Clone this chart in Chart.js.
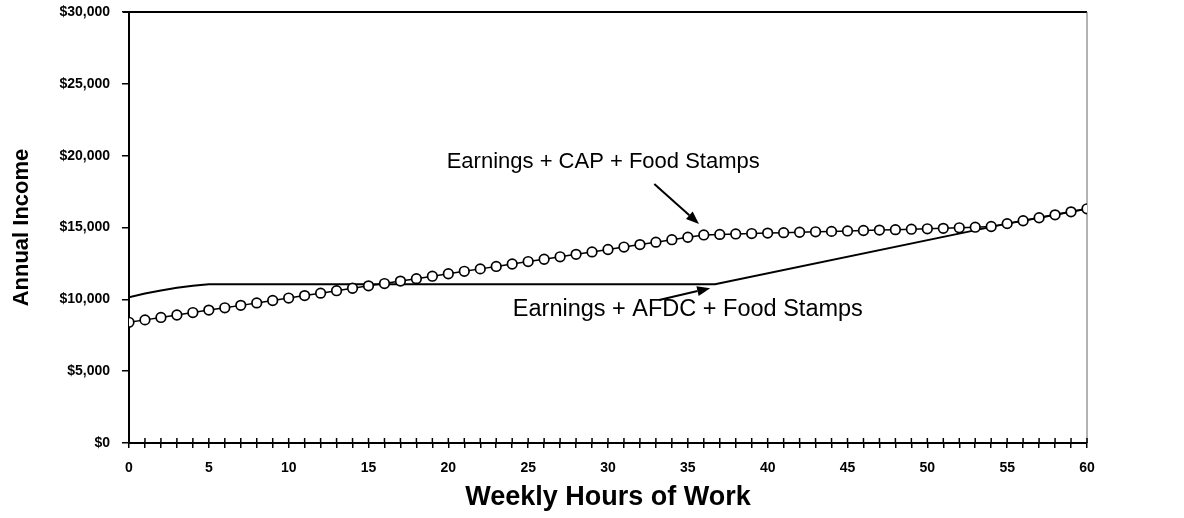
<!DOCTYPE html>
<html>
<head>
<meta charset="utf-8">
<script src="https://cdn.jsdelivr.net/npm/chart.js@4.4.1/dist/chart.umd.min.js"></script>
<style>
  html, body { margin: 0; padding: 0; background: #fff; }
  #wrap { width: 1184px; height: 518px; }
</style>
</head>
<body>
<div id="wrap"><canvas id="incomeChart" width="1184" height="518"></canvas></div>
<script>
// weekly hours (x) and annual income values
const hours = [0,1,2,3,4,5,6,7,8,9,10,11,12,13,14,15,16,17,18,19,20,
  21,22,23,24,25,26,27,28,29,30,31,32,33,34,35,36,37,38,39,40,
  41,42,43,44,45,46,47,48,49,50,51,52,53,54,55,56,57,58,59,60];

const capIncome = [8400,8570,8740,8910,9080,9250,9410,9580,9750,9920,10090,
  10260,10430,10600,10770,10940,11100,11270,11440,11610,11780,
  11950,12120,12290,12460,12630,12790,12960,13130,13300,13470,
  13640,13810,13980,14150,14320,14480,14520,14550,14580,14610,
  14640,14670,14700,14730,14760,14790,14820,14850,14880,14910,
  14940,14980,15020,15070,15270,15470,15680,15880,16090,16300];

const afdcHours = [0,1,2,3,4,5,36.7,55,56,57,58,59,60];
const afdcIncome = [10150,10400,10620,10800,10950,11050,11050,15270,15470,15680,15880,16090,16300];

const yTickStep = 5000;
const xLabelEvery = 5;

// callout texts, placed in data units
const notes = [
  { text: "Earnings + CAP + Food Stamps", size: 22, x: 29.7, y: 19550, from: [32.9, 18030], to: [35.7, 15250] },
  { text: "Earnings + AFDC + Food Stamps", size: 23.5, x: 35.0, y: 9300, from: [33.2, 9950], to: [36.4, 10780] }
];

const FONT = "'Liberation Sans', Arial, Helvetica, sans-serif";

const decor = {
  id: "decor",
  beforeDatasetsDraw(chart) {
    const { ctx, chartArea: a, scales: { x } } = chart;
    ctx.save();
    ctx.strokeStyle = "#000";
    ctx.lineWidth = 2;
    ctx.beginPath();
    ctx.moveTo(a.left - 6, a.top);
    ctx.lineTo(a.right, a.top);
    ctx.stroke();
    ctx.strokeStyle = "#666";
    ctx.lineWidth = 1;
    ctx.beginPath();
    ctx.moveTo(a.right, a.top);
    ctx.lineTo(a.right, a.bottom);
    ctx.stroke();
    // upper half of the x tick marks
    ctx.strokeStyle = "#000";
    ctx.lineWidth = 1.5;
    x.ticks.forEach(t => {
      const px = x.getPixelForValue(t.value);
      ctx.beginPath();
      ctx.moveTo(px, a.bottom);
      ctx.lineTo(px, a.bottom - 5);
      ctx.stroke();
    });
    ctx.restore();
  },
  afterDraw(chart) {
    const { ctx, scales: { x, y } } = chart;
    ctx.save();
    ctx.fillStyle = "#000";
    ctx.strokeStyle = "#000";
    ctx.textAlign = "center";
    ctx.textBaseline = "middle";
    notes.forEach(n => {
      ctx.font = n.size + "px " + FONT;
      ctx.fillText(n.text, x.getPixelForValue(n.x), y.getPixelForValue(n.y));
      const x1 = x.getPixelForValue(n.from[0]), y1 = y.getPixelForValue(n.from[1]);
      const x2 = x.getPixelForValue(n.to[0]), y2 = y.getPixelForValue(n.to[1]);
      const ang = Math.atan2(y2 - y1, x2 - x1);
      const head = 13, half = 5;
      ctx.lineWidth = 2;
      ctx.beginPath();
      ctx.moveTo(x1, y1);
      ctx.lineTo(x2 - head * Math.cos(ang), y2 - head * Math.sin(ang));
      ctx.stroke();
      ctx.beginPath();
      ctx.moveTo(x2, y2);
      ctx.lineTo(x2 - head * Math.cos(ang) + half * Math.sin(ang), y2 - head * Math.sin(ang) - half * Math.cos(ang));
      ctx.lineTo(x2 - head * Math.cos(ang) - half * Math.sin(ang), y2 - head * Math.sin(ang) + half * Math.cos(ang));
      ctx.closePath();
      ctx.fill();
    });
    ctx.restore();
  }
};

new Chart(document.getElementById("incomeChart"), {
  type: "line",
  data: {
    datasets: [
      {
        label: "Earnings + CAP + Food Stamps",
        data: hours.map((h, i) => ({ x: h, y: capIncome[i] })),
        borderColor: "#000",
        borderWidth: 1.5,
        pointRadius: 4.8,
        pointBorderWidth: 1.7,
        pointBackgroundColor: "#fff",
        pointBorderColor: "#000",
        tension: 0,
        fill: false
      },
      {
        label: "Earnings + AFDC + Food Stamps",
        data: afdcHours.map((h, i) => ({ x: h, y: afdcIncome[i] })),
        borderColor: "#000",
        borderWidth: 2,
        pointRadius: 0,
        tension: 0,
        fill: false
      }
    ]
  },
  options: {
    responsive: false,
    animation: false,
    devicePixelRatio: 1,
    layout: { padding: { top: 12, right: 97, left: 0, bottom: 0 } },
    plugins: { legend: { display: false }, tooltip: { enabled: false } },
    scales: {
      x: {
        type: "linear",
        min: 0,
        max: 60,
        afterFit(scale) { scale.height = 75; scale.paddingLeft = 0; scale.paddingRight = 0; },
        border: { display: true, color: "#000", width: 2 },
        grid: { drawOnChartArea: false, drawTicks: true, tickLength: 5, color: "#000", lineWidth: 1.5 },
        ticks: {
          stepSize: 1,
          autoSkip: false,
          maxRotation: 0,
          padding: 12,
          color: "#000",
          font: { family: FONT, size: 14, weight: "bold" },
          callback: v => (v % xLabelEvery === 0 ? String(v) : "")
        },
        title: {
          display: true,
          text: "Weekly Hours of Work",
          color: "#000",
          font: { family: FONT, size: 27, weight: "bold" },
          padding: { top: 0, bottom: 4 }
        }
      },
      y: {
        min: 0,
        max: 30000,
        afterFit(scale) { scale.width = 129; scale.paddingTop = 0; scale.paddingBottom = 0; },
        border: { display: true, color: "#000", width: 2 },
        grid: { drawOnChartArea: false, drawTicks: true, tickLength: 7, color: "#000", lineWidth: 1.5 },
        ticks: {
          stepSize: yTickStep,
          padding: 12,
          color: "#000",
          font: { family: FONT, size: 14, weight: "bold" },
          callback: v => "$" + v.toLocaleString("en-US")
        },
        title: {
          display: true,
          text: "Annual Income",
          color: "#000",
          font: { family: FONT, size: 22, weight: "bold" },
          padding: { top: 9, bottom: 0 }
        }
      }
    }
  },
  plugins: [decor]
});
</script>
</body>
</html>
